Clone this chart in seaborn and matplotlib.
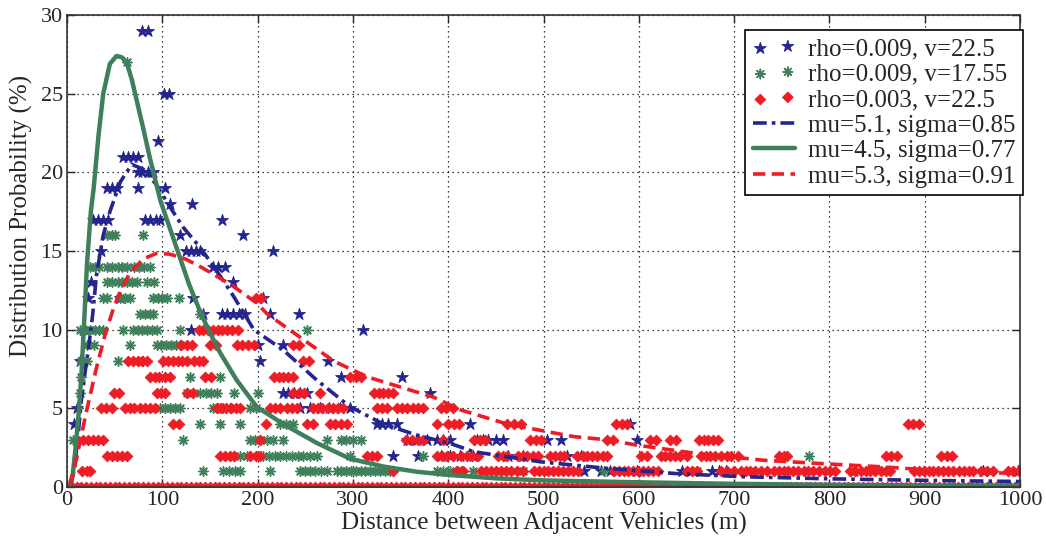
import matplotlib
matplotlib.use("Agg")
import matplotlib.pyplot as plt
import numpy as np
import pandas as pd
import seaborn as sns

# measured distributions: probability (%) level -> distances (m) at that level
blue_levels = {
    29: [79, 85],
    25: [102, 107],
    22: [95],
    21: [59, 64, 69, 74],
    20: [74, 79, 85, 90],
    19: [42, 47, 52, 74, 103],
    18: [108, 131],
    17: [27, 33, 38, 43, 82, 87, 93, 98, 163],
    16: [119, 185],
    15: [36, 125, 130, 135, 140, 216],
    14: [153, 158, 166],
    13: [25, 174],
    12: [22, 56, 132, 206],
    11: [143, 163, 168, 174, 180, 187, 213, 243],
    10: [19, 130, 311],
    9: [200, 227],
    8: [14, 203, 274],
    7: [287, 352],
    6: [227, 232, 238, 244, 252, 381],
    5: [10, 245, 255, 265, 275, 286, 297],
    4: [7, 325, 331, 337, 346, 423, 591],
    3: [357, 367, 378, 388, 395, 402, 430, 436, 442, 450, 458, 504, 518, 598],
    2: [342, 368, 392, 402, 412, 426, 463, 478, 525, 539],
    1: [542, 560, 570, 598, 645, 677, 684, 691, 826, 961, 998],
}

green_levels = {
    27: [63],
    16: [42, 47, 50, 80],
    14: [24, 29, 34, 42, 47, 53, 58, 63, 70, 76, 81, 87],
    13: [42, 47, 53, 58, 63, 68, 73, 84, 91],
    12: [38, 42, 56, 61, 66, 90, 95, 100, 105, 117],
    11: [77, 82, 87, 90, 140],
    10: [14, 19, 24, 29, 34, 38, 59, 69, 74, 79, 84, 89, 94, 119, 252],
    9: [21, 28, 66, 94, 99, 104, 109, 114, 119],
    8: [15, 21, 54, 80],
    7: [15, 129, 161],
    6: [14, 126, 140, 146, 151, 157, 175, 200],
    5: [98, 103, 108, 113, 119, 153, 158, 164, 171, 192, 198],
    4: [140, 161, 182, 224, 230, 237],
    3: [6, 122, 192, 197, 203, 210, 216, 227, 273, 287, 293, 300, 308],
    2: [175, 182, 189, 206, 212, 218, 224, 230, 236, 242, 248, 255, 262,
        297, 374, 779],
    1: [143, 164, 170, 176, 182, 213, 245, 250, 255, 260, 267, 273, 283,
        288, 293, 298, 303, 308, 313, 318, 323, 328, 334, 339, 388, 395,
        402, 408, 413, 426, 479, 563, 661],
}

red_levels = {
    12: [198, 204],
    10: [138, 143, 148, 153, 158, 163, 168, 173, 179],
    9: [120, 126, 131, 150, 156, 178, 184, 190, 196, 237, 243],
    8: [64, 69, 74, 79, 84, 101, 106, 111, 116, 121, 126, 133, 138, 143,
        248, 254],
    7: [87, 92, 97, 103, 108, 145, 151, 217, 222, 227, 232, 237, 297, 303, 308],
    6: [49, 55, 94, 99, 103, 126, 132, 237, 243, 249, 266, 322, 327, 332,
        337, 342],
    5: [36, 41, 47, 61, 66, 70, 77, 82, 87, 92, 157, 162, 167, 172, 177, 182,
        213, 218, 224, 231, 236, 241, 258, 263, 268, 274, 279, 284, 290, 325,
        331, 336, 346, 351, 357, 363, 368, 374, 392, 398, 405],
    4: [111, 117, 209, 252, 258, 276, 281, 287, 294, 388, 400, 406, 411, 462,
        469, 476, 576, 582, 588, 882, 888, 894],
    3: [17, 22, 27, 33, 38, 203, 356, 362, 368, 374, 395, 427, 433, 439, 486,
        492, 497, 567, 573, 612, 618, 633, 639, 663, 668, 673, 678, 683],
    2: [42, 47, 52, 58, 63, 161, 166, 171, 175, 192, 198, 203, 315, 320, 325,
        388, 394, 399, 405, 413, 420, 425, 431, 452, 457, 462, 473, 478, 483,
        489, 494, 507, 512, 517, 521, 535, 541, 546, 551, 556, 562, 567, 602,
        609, 623, 628, 633, 638, 643, 651, 665, 670, 675, 680, 686, 693, 697,
        704, 747, 752, 756, 859, 865, 871, 917, 923, 929],
    1: [16, 21, 24, 342, 409, 416, 434, 440, 445, 450, 455, 461, 466, 472,
        479, 490, 495, 500, 505, 510, 515, 520, 526, 531, 536, 574, 579, 584,
        589, 594, 599, 604, 610, 615, 620, 651, 656, 661, 686, 693, 700, 707,
        712, 717, 722, 728, 735, 742, 747, 752, 757, 762, 767, 773, 778, 783,
        789, 795, 801, 806, 822, 827, 833, 838, 843, 848, 854, 859, 864, 889,
        894, 899, 904, 909, 914, 919, 924, 930, 936, 941, 946, 951, 959, 965,
        972, 987, 993, 999],
}
# the distance bins (5 m) where the rho=0.003 series sits at zero
red_zero_x = np.arange(5, 1001, 5)

# fitted lognormal curves
blue_fit_x = [4, 8, 12, 15, 19, 23, 27, 31, 38, 45, 56, 68, 80, 94, 108,
              122, 140, 157, 175, 196, 227, 262, 297, 332, 367, 402, 427,
              497, 567, 640, 710, 800, 900, 1000]
blue_fit_y = [0.1, 1.2, 3.5, 5.5, 7.3, 9.0, 11.0, 13.5, 16.0, 17.5, 19.4,
              20.5, 20.2, 19.2, 17.8, 16.5, 15.2, 13.75, 12.1, 10.0, 8.7, 6.8,
              5.1, 4.0, 3.3, 2.77, 2.24, 1.6, 1.18, 0.85, 0.65, 0.52, 0.42, 0.35]

green_fit_x = [3, 6, 9, 12, 15, 18, 21, 25, 28, 33, 38, 45, 52, 58, 63, 68,
               73, 80, 87, 98, 115, 128, 140, 150, 161, 178, 199, 227, 262,
               297, 332, 367, 402, 450, 500, 600, 700, 800, 900, 1000]
green_fit_y = [0.1, 0.8, 2.5, 4.5, 7.0, 10.5, 14.2, 17.5, 19.0, 22.3, 25.0,
               26.9, 27.4, 27.3, 26.9, 25.9, 24.6, 22.8, 20.9, 18.2, 15.2,
               12.9, 11.1, 9.8, 8.5, 6.8, 5.1, 4.0, 2.8, 1.8, 1.3, 0.97, 0.76,
               0.55, 0.42, 0.3, 0.2, 0.14, 0.1, 0.07]

red_fit_x = [3, 10, 20, 31, 40, 49, 57, 66, 80, 94, 108, 124, 140, 171, 199,
             210, 245, 280, 315, 350, 385, 413, 462, 497, 532, 567, 598, 661,
             731, 788, 850, 900, 950, 1000]
red_fit_y = [0.1, 1.8, 4.7, 7.6, 9.7, 11.4, 12.6, 13.6, 14.5, 14.85, 14.8,
             14.5, 14.0, 12.9, 11.7, 11.0, 9.5, 8.0, 7.0, 6.35, 5.7, 4.9, 4.0,
             3.6, 3.2, 3.0, 2.66, 2.13, 1.7, 1.5, 1.3, 1.1, 0.95, 0.85]

labels = ["rho=0.009, v=22.5", "rho=0.009, v=17.55", "rho=0.003, v=22.5",
          "mu=5.1, sigma=0.85", "mu=4.5, sigma=0.77", "mu=5.3, sigma=0.91"]

BLUE = "#25258f"
GREEN = "#3f7f5c"
RED = "#ee1c24"


def levels_to_frame(levels, zeros=()):
    rows = [(x, y) for y, xs in levels.items() for x in xs]
    rows += [(x, 0) for x in zeros]
    return pd.DataFrame(rows, columns=["distance", "prob"])


sns.set_style("ticks")
plt.rcParams["font.family"] = ["Liberation Serif", "DejaVu Serif"]

fig = plt.figure(figsize=(10.46, 5.4), dpi=100)
ax = fig.add_axes([67 / 1046, 53 / 540, 953 / 1046, 472 / 540])

sns.scatterplot(data=levels_to_frame(blue_levels), x="distance", y="prob",
                marker="*", s=80, color=BLUE, edgecolor=BLUE, linewidth=0.6,
                label=labels[0], ax=ax)
sns.scatterplot(data=levels_to_frame(green_levels), x="distance", y="prob",
                marker=(8, 2, 0), s=45, color=GREEN, linewidth=1.1,
                label=labels[1], ax=ax)
sns.scatterplot(data=levels_to_frame(red_levels, red_zero_x), x="distance",
                y="prob", marker="D", s=30, color=RED, edgecolor=RED,
                linewidth=0.6, label=labels[2], ax=ax)

sns.lineplot(x=blue_fit_x, y=blue_fit_y, color=BLUE, lw=2.6, label=labels[3],
             estimator=None, sort=False, ax=ax)
ax.lines[-1].set_dashes([3.8, 1.4, 1.0, 1.4])
sns.lineplot(x=green_fit_x, y=green_fit_y, color=GREEN, lw=3.2,
             label=labels[4], estimator=None, sort=False, ax=ax)
sns.lineplot(x=red_fit_x, y=red_fit_y, color=RED, lw=2.6, label=labels[5],
             estimator=None, sort=False, ax=ax)
ax.lines[-1].set_dashes([3.4, 1.8])

ax.set_xlim(0, 1000)
ax.set_ylim(0, 30)
ax.set_xticks(range(0, 1001, 100))
ax.set_yticks(range(0, 31, 5))
ax.grid(True, linestyle=(0, (1, 3)), color="black", linewidth=0.9)
ax.set_axisbelow(True)
ax.tick_params(direction="in", top=True, right=True, length=6, width=1,
               labelsize=16, pad=3)
for sp in ax.spines.values():
    sp.set_color("#333333")
    sp.set_linewidth(1.2)

ax.set_xlabel("Distance between Adjacent Vehicles (m)", fontsize=18, labelpad=1)
ax.set_ylabel("Distribution Probability (%)", fontsize=18)
ax.yaxis.set_label_coords(-0.036, 0.575)

ax.legend(loc="upper right", bbox_to_anchor=(1.003, 0.968), frameon=True,
          fancybox=False, edgecolor="black", framealpha=1, fontsize=18,
          scatterpoints=2, handlelength=1.7, handletextpad=0.5,
          labelspacing=0.12, borderpad=0.3, borderaxespad=0)
ax.get_legend().get_frame().set_linewidth(1.2)

fig.savefig("out.png", dpi=100)
